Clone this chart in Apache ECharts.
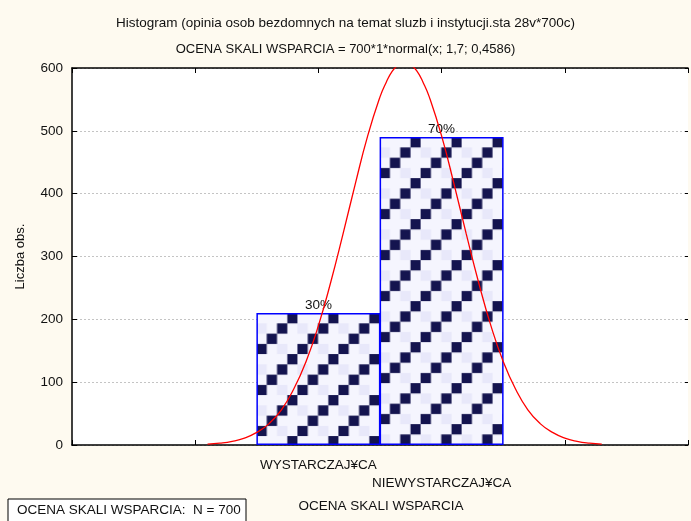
<!DOCTYPE html>
<html>
<head>
<meta charset="utf-8">
<script src="https://cdn.jsdelivr.net/npm/echarts@6/dist/echarts.min.js"></script>
<style>
  html, body { margin: 0; padding: 0; background: #fefaf0; }
  #chart { width: 691px; height: 521px; }
</style>
</head>
<body>
<div id="chart"></div>
<script>
// category positions on the x axis and their labels
const binValues = [1, 2];
const binLabels = ['WYSTARCZAJ¥CA', 'NIEWYSTARCZAJ¥CA'];
const counts = [210, 490];
const pctLabels = ['30%', '70%'];

// fitted normal curve
const curveX = [0.1, 0.2, 0.3, 0.4, 0.5, 0.6, 0.7, 0.8, 0.9, 1.0, 1.1, 1.2, 1.3, 1.4, 1.5, 1.55, 1.6, 1.65, 1.7,
                1.75, 1.8, 1.85, 1.9, 2.0, 2.1, 2.2, 2.3, 2.4, 2.5, 2.6, 2.7, 2.8, 2.9, 3.0, 3.1, 3.2, 3.3];
const curveY = [1.4, 2.9, 5.8, 11, 20, 34, 56, 89, 133, 190, 259, 336, 416, 492, 554, 577, 595, 605, 609,
                605, 595, 577, 554, 492, 416, 336, 259, 190, 133, 89, 56, 34, 20, 11, 5.8, 2.9, 1.4];

const BAR_W = 124;

// checkered fill like the original
const tile = (function () {
	const c = document.createElement('canvas');
	const s = 10.3;
	c.width = 41;
	c.height = 41;
	const ctx = c.getContext('2d');
	ctx.fillStyle = '#f5f5fe';
	ctx.fillRect(0, 0, c.width, c.height);
	for (let r = 0; r < 4; r++) {
		for (let k = 0; k < 4; k++) {
			if ((r + k) % 4 === 3) {
				ctx.fillStyle = '#14144f';
				ctx.fillRect(k * s, r * s, s, s);
			} else if ((r + k) % 4 === 1 && k % 2 === 0) {
				ctx.fillStyle = '#e8e8fa';
				ctx.fillRect(k * s, r * s, s, s);
			}
		}
	}
	return c;
})();

const chart = echarts.init(document.getElementById('chart'), null, { renderer: 'canvas' });
const font = 'Liberation Sans';
const ink = '#111';

function frameAxis(extra) {
	return Object.assign({
		axisLine: { show: true, onZero: false, lineStyle: { color: '#000', width: 1.5 } },
		axisTick: { show: true, inside: true, length: 5, lineStyle: { color: '#000' } },
		axisLabel: { show: false },
		splitLine: { show: false }
	}, extra);
}

const option = {
	backgroundColor: '#fefaf0',
	animation: false,
	textStyle: { fontFamily: font },
	grid: {
		left: 72, right: 0, top: 68, bottom: 76,
		show: true, backgroundColor: '#ffffff', borderWidth: 0
	},
	xAxis: [
		frameAxis({
			type: 'value', position: 'bottom', min: -1, max: 4, interval: 1,
			axisLabel: {
				show: true, color: ink, fontSize: 13.5, fontFamily: font, margin: 11, lineHeight: 18,
				formatter: function (v) {
					const i = binValues.indexOf(v);
					if (i < 0) return '';
					return (i === 1 ? '\n' : '') + binLabels[i];
				}
			}
		}),
		frameAxis({ type: 'value', position: 'top', min: -1, max: 4, interval: 1 })
	],
	yAxis: [
		frameAxis({
			type: 'value', position: 'left', min: 0, max: 600, interval: 100,
			name: 'Liczba obs.', nameLocation: 'middle', nameGap: 45, nameRotate: 90,
			nameTextStyle: { color: ink, fontSize: 13, fontFamily: font },
			axisLabel: { show: true, color: ink, fontSize: 13.5, fontFamily: font, margin: 9 },
			splitLine: { show: true, lineStyle: { color: '#c4c4c4', type: [2, 2], width: 1 } }
		}),
		frameAxis({
			type: 'value', position: 'right', min: 0, max: 600, interval: 100,
			axisLine: { show: false, onZero: false },
			axisTick: { show: true, inside: true, length: 3, lineStyle: { color: '#000' } }
		})
	],
	title: [
		{
			text: 'Histogram (opinia osob bezdomnych na temat sluzb i instytucji.sta 28v*700c)',
			left: 'center', top: 11,
			textStyle: { fontSize: 13.5, fontWeight: 'normal', color: ink, fontFamily: font }
		},
		{
			text: 'OCENA SKALI WSPARCIA = 700*1*normal(x; 1,7; 0,4586)',
			left: 'center', top: 38,
			textStyle: { fontSize: 13, fontWeight: 'normal', color: ink, fontFamily: font }
		}
	],
	series: [
		{
			type: 'bar',
			data: binValues.map((v, i) => [v, counts[i]]),
			barWidth: BAR_W,
			itemStyle: {
				color: { image: tile, repeat: 'repeat' },
				borderColor: '#0000ff', borderWidth: 1.5
			},
			label: {
				show: true, position: 'top', distance: 1, color: ink, fontSize: 13.5, fontFamily: font,
				formatter: p => pctLabels[p.dataIndex]
			},
			z: 2
		},
		{
			type: 'line',
			data: curveX.map((x, i) => [x, curveY[i]]),
			smooth: true, symbol: 'none', clip: true,
			lineStyle: { color: '#ff0000', width: 1.3 },
			z: 3
		}
	],
	graphic: [
		{
			type: 'text', x: 381, y: 499,
			style: { text: 'OCENA SKALI WSPARCIA', fontSize: 13.5, fontFamily: font, fill: ink, align: 'center' }
		},
		{
			type: 'rect', shape: { x: 8, y: 499, width: 238, height: 24 },
			style: { fill: '#ffffff', stroke: '#000', lineWidth: 1 }
		},
		{
			type: 'text', x: 17, y: 503,
			style: { text: 'OCENA SKALI WSPARCIA:  N = 700', fontSize: 13.5, fontFamily: font, fill: ink }
		}
	]
};

chart.setOption(option);

// start the checker pattern at each bar's top-left corner, as in the original
const barData = binValues.map((v, i) => {
	const p = chart.convertToPixel({ gridIndex: 0 }, [v, counts[i]]);
	return {
		value: [v, counts[i]],
		itemStyle: { color: { image: tile, repeat: 'repeat', x: p[0] - BAR_W / 2, y: p[1] } }
	};
});
chart.setOption({ series: [{ data: barData }, {}] });
</script>
</body>
</html>
